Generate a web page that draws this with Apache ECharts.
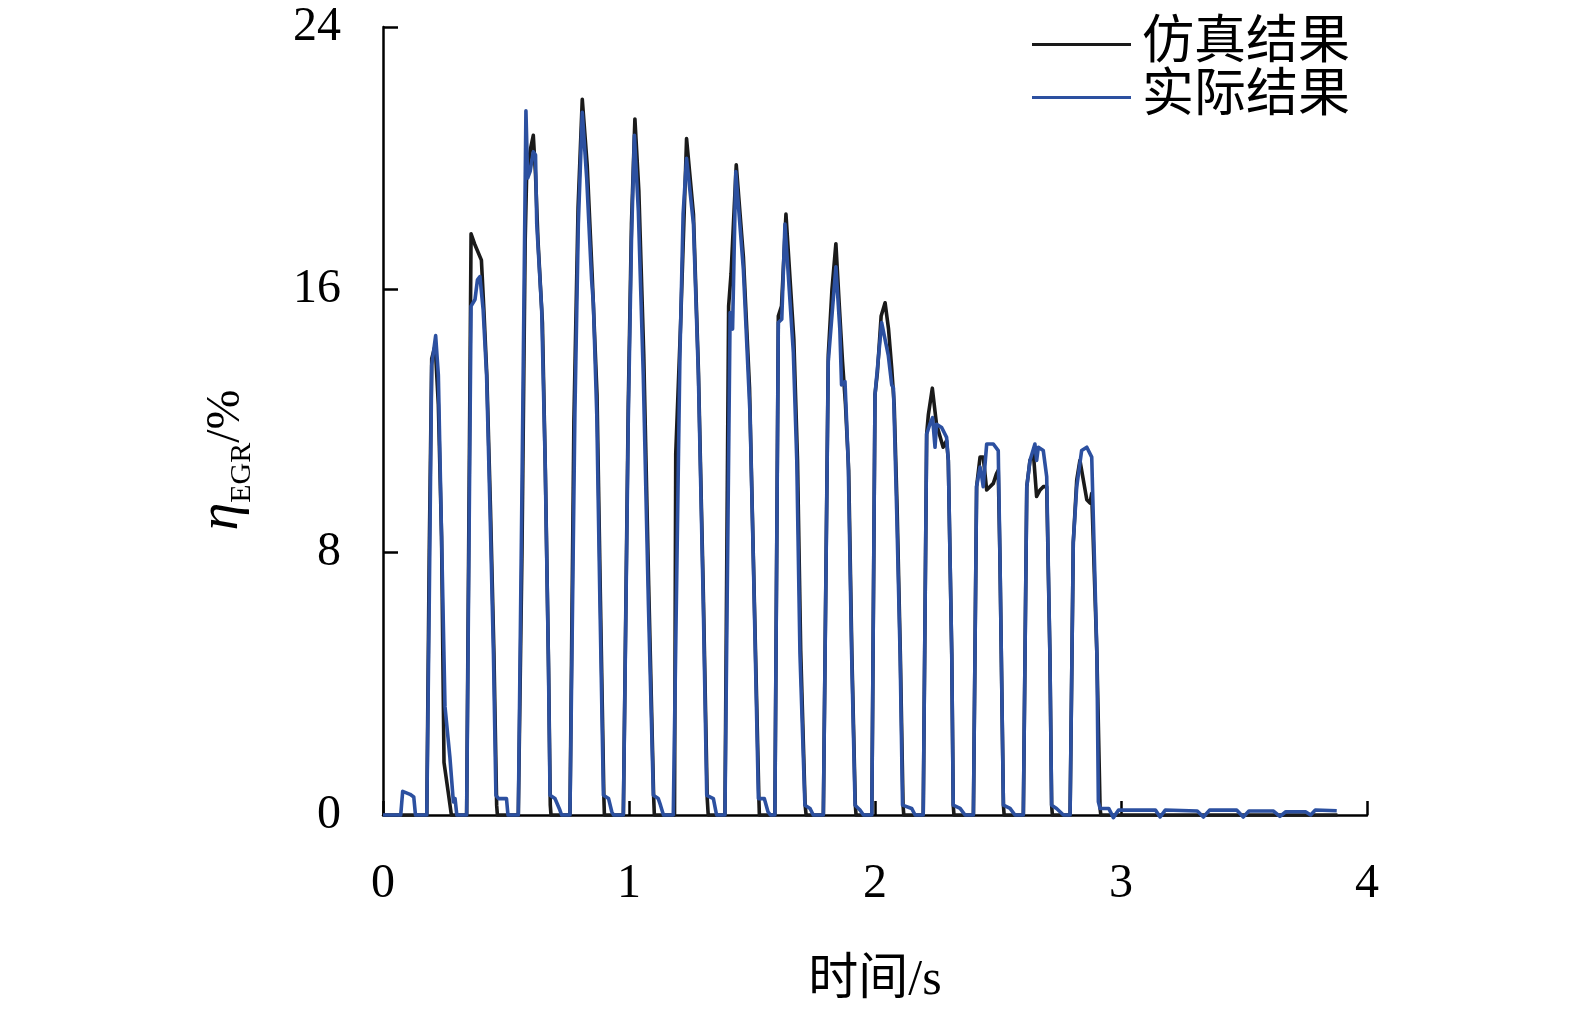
<!DOCTYPE html>
<html>
<head>
<meta charset="utf-8">
<script src="https://cdn.jsdelivr.net/npm/echarts@6/dist/echarts.min.js"></script>
<style>
  html, body { margin: 0; padding: 0; background: #fff; }
  #chart { width: 1575px; height: 1015px; }
</style>
</head>
<body>
<div id="chart"></div>
<script>
// 仿真结果 (black)
var simT = [
  0, 0.178, 0.188, 0.198, 0.212, 0.225, 0.238, 0.248, 0.265, 0.278,
  0.34, 0.358, 0.372, 0.4, 0.41, 0.422, 0.437, 0.451, 0.462, 0.465,
  0.55, 0.565, 0.578, 0.584, 0.6, 0.611, 0.62, 0.63, 0.648, 0.66, 0.673, 0.68, 0.683,
  0.76, 0.776, 0.793, 0.81, 0.83, 0.85, 0.87, 0.884, 0.898, 0.9,
  0.977, 0.997, 1.01, 1.024, 1.04, 1.06, 1.08, 1.1, 1.103,
  1.185, 1.19, 1.21, 1.234, 1.262, 1.282, 1.302, 1.318, 1.322,
  1.39, 1.405, 1.415, 1.436, 1.465, 1.49, 1.505, 1.528, 1.53,
  1.593, 1.607, 1.62, 1.638, 1.67, 1.685, 1.698, 1.716, 1.72,
  1.79, 1.81, 1.825, 1.841, 1.855, 1.868, 1.88, 1.893, 1.906, 1.92, 1.923,
  1.987, 2.0, 2.01, 2.025, 2.041, 2.055, 2.068, 2.078, 2.09, 2.103, 2.114, 2.117,
  2.196, 2.21, 2.217, 2.233, 2.25, 2.277, 2.291, 2.298, 2.312, 2.318, 2.321,
  2.4, 2.413, 2.427, 2.44, 2.454, 2.481, 2.494, 2.501, 2.508, 2.522, 2.525,
  2.603, 2.617, 2.63, 2.644, 2.657, 2.671, 2.684, 2.698, 2.711, 2.718, 2.721,
  2.793, 2.806, 2.82, 2.833, 2.861, 2.874, 2.881, 2.888, 2.902, 2.915, 2.918,
  3.88
];
var simV = [
  0, 0, 8, 13.9, 14.3, 12.5, 8.5, 1.6, 0.7, 0,
  0, 17.7, 17.4, 16.9, 15.4, 13.4, 9.3, 4.9, 0.3, 0,
  0, 8, 17.5, 19.5, 20.3, 20.7, 19.5, 17.5, 15.0, 10.5, 4.5, 0.3, 0,
  0, 12, 18.5, 21.8, 19.8, 16.5, 12.8, 6.5, 0.5, 0,
  0, 12.5, 18, 21.2, 19, 14, 7, 0.6, 0,
  0, 11, 15, 20.6, 18.3, 13.6, 6.8, 0.5, 0,
  0, 15.5, 16.5, 19.8, 17, 13, 8, 0.5, 0,
  0, 15.2, 15.5, 18.3, 14.5, 10.8, 5, 0.3, 0,
  0, 14, 16, 17.4, 15.5, 13.8, 12.5, 10.5, 4.9, 0.3, 0,
  0, 12.8, 13.5, 15.2, 15.6, 14.8, 13.6, 12.5, 9.3, 4.9, 0.3, 0,
  0, 11.6, 12.2, 13.0, 11.9, 11.2, 11.4, 10.8, 4.9, 0.3, 0,
  0, 10.0, 10.9, 10.9, 9.9, 10.1, 10.4, 10.5, 7.8, 0.3, 0,
  0, 10.0, 10.8, 11.0, 9.7, 9.9, 10.0, 10.0, 4.9, 0.3, 0,
  0, 8.3, 10.2, 10.8, 9.6, 9.5, 9.8, 9.8, 4.9, 0.2, 0,
  0
];

// 实际结果 (blue)
var expT = [
  0, 0.072, 0.08, 0.11, 0.125, 0.132,
  0.178, 0.188, 0.198, 0.214, 0.225, 0.238, 0.252, 0.272, 0.286, 0.293, 0.3,
  0.34, 0.358, 0.374, 0.384, 0.394, 0.407, 0.421, 0.435, 0.449, 0.459, 0.47, 0.502, 0.508,
  0.55, 0.565, 0.581, 0.588, 0.598, 0.611, 0.62, 0.625, 0.645, 0.659, 0.672, 0.679, 0.699, 0.719, 0.726,
  0.76, 0.78, 0.794, 0.81, 0.828, 0.848, 0.855, 0.869, 0.882, 0.896, 0.917, 0.93, 0.937,
  0.977, 0.997, 1.01, 1.022, 1.038, 1.058, 1.079, 1.099, 1.119, 1.128, 1.14,
  1.18, 1.207, 1.22, 1.234, 1.262, 1.282, 1.302, 1.316, 1.343, 1.356,
  1.39, 1.411, 1.421, 1.434, 1.465, 1.492, 1.505, 1.526, 1.55, 1.565, 1.575,
  1.593, 1.607, 1.621, 1.634, 1.668, 1.682, 1.695, 1.715, 1.736, 1.749,
  1.79, 1.81, 1.841, 1.857, 1.864, 1.878, 1.891, 1.905, 1.919, 1.939, 1.953,
  1.987, 2.0, 2.007, 2.027, 2.054, 2.068, 2.075, 2.088, 2.102, 2.112, 2.149, 2.163,
  2.196, 2.21, 2.223, 2.234, 2.244, 2.25, 2.271, 2.291, 2.298, 2.312, 2.318, 2.346, 2.366,
  2.4, 2.413, 2.42, 2.427, 2.434, 2.44, 2.454, 2.481, 2.501, 2.508, 2.522, 2.549, 2.569,
  2.603, 2.617, 2.63, 2.65, 2.657, 2.664, 2.684, 2.698, 2.711, 2.718, 2.738, 2.766,
  2.793, 2.806, 2.82, 2.84, 2.861, 2.881, 2.888, 2.902, 2.908, 2.915, 2.95, 2.969, 2.99,
  3.14, 3.159, 3.18, 3.31, 3.335, 3.36, 3.47, 3.497, 3.52, 3.62, 3.646, 3.67, 3.75, 3.771, 3.79, 3.877
];
var expV = [
  0, 0, 0.72, 0.63, 0.55, 0,
  0, 6.5, 13.7, 14.6, 13.4, 8.5, 3.3, 1.75, 0.4, 0.5, 0,
  0, 15.5, 15.7, 16.3, 16.4, 15.4, 13.4, 9.3, 4.9, 0.6, 0.5, 0.5, 0,
  0, 10, 21.45, 19.4, 19.6, 20.2, 20.1, 18.0, 15.4, 10.8, 4.9, 0.6, 0.5, 0.15, 0,
  0, 12.2, 18.0, 21.4, 19.4, 16.3, 15.6, 12.2, 6.4, 0.6, 0.5, 0.1, 0,
  0, 12, 17.5, 20.7, 18.4, 13.4, 6.4, 0.6, 0.5, 0.3, 0,
  0, 14, 18.3, 20.0, 18.0, 13.4, 6.4, 0.6, 0.5, 0,
  0, 15.3, 14.8, 19.6, 16.6, 12.2, 7.9, 0.5, 0.5, 0.1, 0,
  0, 15.0, 15.1, 18.0, 14.1, 10.8, 4.9, 0.3, 0.2, 0,
  0, 13.8, 16.7, 14.8, 13.1, 13.2, 10.8, 4.9, 0.3, 0.15, 0,
  0, 12.8, 12.8, 15.0, 14.0, 13.1, 13.0, 9.3, 4.9, 0.3, 0.2, 0,
  0, 11.6, 11.9, 12.1, 11.2, 11.9, 11.8, 11.5, 10.8, 4.9, 0.3, 0.2, 0,
  0, 10.0, 10.05, 10.6, 10.3, 10.0, 11.3, 11.3, 11.1, 7.8, 0.3, 0.2, 0,
  0, 10.0, 10.8, 11.3, 10.8, 11.2, 11.1, 10.3, 4.9, 0.3, 0.2, 0,
  0, 8.3, 10.0, 11.1, 11.2, 10.9, 10.9, 4.9, 0.4, 0.2, 0.2, -0.08, 0.15,
  0.15, -0.06, 0.15, 0.12, -0.06, 0.15, 0.15, -0.06, 0.12, 0.12, -0.04, 0.1, 0.1, 0, 0.15, 0.13
];

var seriesNames = ["仿真结果", "实际结果"];
var xTicks = [0, 1, 2, 3, 4];
var yTicks = [0, 8, 16, 24];

function pairs(t, v) {
  return t.map(function (x, i) { return [x, v[i]]; });
}

var serif = "'Liberation Serif', 'Noto Sans CJK SC'";
var myChart = echarts.init(document.getElementById("chart"));

var options = {
  animation: false,
  backgroundColor: "#fff",
  grid: { left: 383, top: 27, width: 984, height: 788 },
  legend: {
    data: seriesNames,
    orient: "vertical",
    left: 1032,
    top: 18,
    padding: 0,
    icon: "rect",
    itemWidth: 99,
    itemHeight: 3,
    itemGap: 0,
    textStyle: {
      fontFamily: serif,
      fontSize: 52,
      lineHeight: 53,
      color: "#000",
      padding: [0, 0, 0, 6],
    },
  },
  xAxis: {
    type: "value",
    min: xTicks[0],
    max: xTicks[xTicks.length - 1],
    interval: 1,
    name: "时间/s",
    nameLocation: "middle",
    nameGap: 141,
    nameTextStyle: { fontFamily: serif, fontSize: 50, color: "#000" },
    axisLine: { lineStyle: { color: "#000", width: 2.5 } },
    axisTick: { inside: true, length: 14, lineStyle: { color: "#000", width: 2.5 } },
    axisLabel: { fontFamily: serif, fontSize: 48, color: "#000", margin: 45 },
    splitLine: { show: false },
  },
  yAxis: {
    type: "value",
    min: yTicks[0],
    max: yTicks[yTicks.length - 1],
    interval: 8,
    axisLine: { show: true, lineStyle: { color: "#000", width: 2.5 } },
    axisTick: { show: true, inside: true, length: 15, lineStyle: { color: "#000", width: 2.5 } },
    axisLabel: { fontFamily: serif, fontSize: 48, color: "#000", margin: 42 },
    splitLine: { show: false },
  },
  graphic: [
    {
      type: "text",
      x: 226,
      y: 460,
      rotation: Math.PI / 2,
      style: {
        text: "{a|η}{b|EGR}{c|/%}",
        align: "center",
        verticalAlign: "middle",
        rich: {
          a: { fontFamily: serif, fontStyle: "italic", fontSize: 56, verticalAlign: "bottom", padding: [0, 0, 7, 0], fill: "#000" },
          b: { fontFamily: serif, fontSize: 30, verticalAlign: "bottom", fill: "#000" },
          c: { fontFamily: serif, fontSize: 48, verticalAlign: "bottom", padding: [0, 0, 7, 0], fill: "#000" },
        },
      },
    },
  ],
  series: [
    {
      name: seriesNames[0],
      type: "line",
      data: pairs(simT, simV),
      showSymbol: false,
      clip: false,
      color: "#1a1a1a",
      lineStyle: { color: "#1a1a1a", width: 3.6, join: "round" },
    },
    {
      name: seriesNames[1],
      type: "line",
      data: pairs(expT, expV),
      showSymbol: false,
      clip: false,
      color: "#2c50a0",
      lineStyle: { color: "#2c50a0", width: 3.6, join: "round" },
    },
  ],
};
myChart.setOption(options);
</script>
</body>
</html>
